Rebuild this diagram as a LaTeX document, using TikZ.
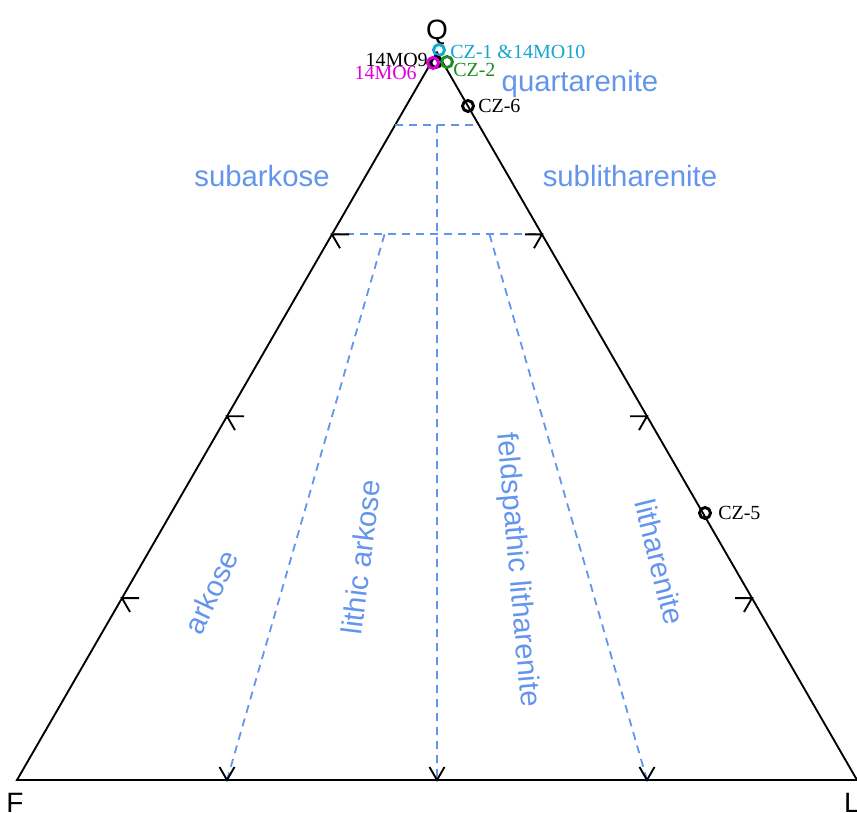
\documentclass[tikz,border=0pt]{standalone}
\usepackage{fontspec}
\setmainfont{Liberation Sans}
\newfontfamily\ptfont{Liberation Serif}
\usepackage{tikz}
\definecolor{fieldblue}{RGB}{100,149,237}
\definecolor{ptcyan}{RGB}{20,165,210}
\definecolor{ptgreen}{RGB}{34,139,34}
\definecolor{ptmagenta}{RGB}{220,0,220}
\tikzset{
	field/.style={dashed, fieldblue, line width=1.35pt, dash pattern=on 6pt off 4.5pt},
	fieldlab/.style={fieldblue, inner sep=0pt, font=\fontsize{22}{24}\selectfont},
	corner/.style={inner sep=0pt, font=\fontsize{21}{23}\selectfont},
	tickmark/.style={line width=1.4pt},
	sample/.style={line width=2.2pt},
	samplab/.style={inner sep=0pt, font=\ptfont\fontsize{15}{17}\selectfont}
}

\begin{document}
\begin{tikzpicture}[x=0.75pt,y=0.75pt]
			\useasboundingbox (0,0) rectangle (857,813);
			\coordinate (F) at (17,33);
			\coordinate (L) at (857,33);
			\coordinate (Q) at (437,760.5);
			\draw[line width=1.4pt] (F) -- (L) -- (Q) -- cycle;
			\node[corner] (qlab) at (437,781) {Q};
			\node[corner] (flab) at (15,10) {F};
			\node[corner] (llab) at (852,10) {L};
			% field boundaries
			\coordinate (q90f) at (barycentric cs:Q=0.9,F=0.1);
			\coordinate (q90l) at (barycentric cs:Q=0.9,L=0.1);
			\coordinate (q90m) at (barycentric cs:Q=0.9,F=0.05,L=0.05);
			\coordinate (q75f) at (barycentric cs:Q=0.75,F=0.25);
			\coordinate (q75l) at (barycentric cs:Q=0.75,L=0.25);
			\coordinate (q75a) at (barycentric cs:Q=0.75,F=0.1875,L=0.0625);
			\coordinate (q75b) at (barycentric cs:Q=0.75,F=0.0625,L=0.1875);
			\coordinate (b25) at (barycentric cs:F=0.75,L=0.25);
			\coordinate (b50) at (barycentric cs:F=0.5,L=0.5);
			\coordinate (b75) at (barycentric cs:F=0.25,L=0.75);
			\draw[field] (q90f) -- (q90l);
			\draw[field] (q75f) -- (q75l);
			\draw[field] (q90m) -- (b50);
			\draw[field] (q75a) -- (b25);
			\draw[field] (q75b) -- (b75);
			% ticks
			\foreach \q/\r in {0.25/0.75,0.5/0.5,0.75/0.25} {
				\coordinate (tl) at (barycentric cs:Q=\q,F=\r);
				\coordinate (tr) at (barycentric cs:Q=\q,L=\r);
				\coordinate (tb) at (barycentric cs:F=\q,L=\r);
				\draw[tickmark] ([shift={(0:17)}]tl) -- (tl) -- ([shift={(-60:16)}]tl);
				\draw[tickmark] ([shift={(180:17)}]tr) -- (tr) -- ([shift={(240:16)}]tr);
				\draw[tickmark] ([shift={(60:15)}]tb) -- (tb) -- ([shift={(120:15)}]tb);
			}
			% field names
			\node[fieldlab, anchor=base] (qa) at (580,721) {quartarenite};
			\node[fieldlab, anchor=base] (sa) at (262,626) {subarkose};
			\node[fieldlab, anchor=base] (sl) at (630,626) {sublitharenite};
			\node[fieldlab, rotate=65] (ak) at (211,221) {arkose};
			\node[fieldlab, rotate=83] (la) at (361,256) {lithic arkose};
			\node[fieldlab, rotate=-85] (fl) at (517,243) {feldspathic litharenite};
			\node[fieldlab, rotate=-76] (lt) at (660,251) {litharenite};
			% samples
			\draw[sample, ptcyan] (439,763) circle (5.5);
			\draw[sample] (436,751) circle (5.5);
			\draw[sample, ptmagenta] (433,750) circle (5.5);
			\draw[sample, ptgreen] (447,751) circle (5.5);
			\draw[sample] (468,707) circle (5.5);
			\draw[sample] (705,300) circle (5.5);
			\node[samplab, ptcyan, anchor=west] (cz1) at (450,761) {CZ-1 \&14MO10};
			\node[samplab, anchor=east] (m9) at (428,753) {14MO9};
			\node[samplab, ptmagenta, anchor=east] (m6) at (417,740) {14MO6};
			\node[samplab, ptgreen, anchor=west] (cz2) at (453,743) {CZ-2};
			\node[samplab, anchor=west] (cz6) at (478,707) {CZ-6};
			\node[samplab, anchor=west] (cz5) at (718,300) {CZ-5};
\end{tikzpicture}
\end{document}
